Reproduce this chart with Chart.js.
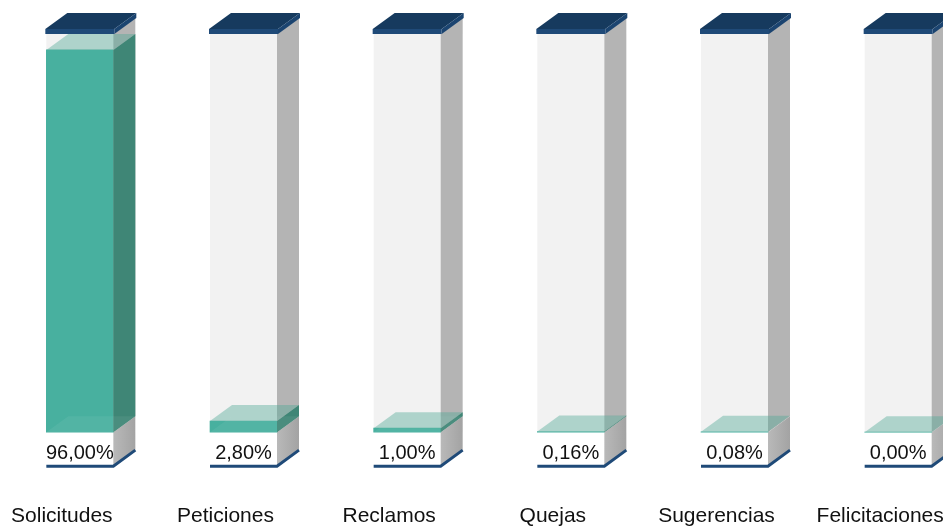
<!DOCTYPE html>
<html>
<head>
<meta charset="utf-8">
<script src="https://cdn.jsdelivr.net/npm/chart.js@4.4.1/dist/chart.umd.min.js"></script>
<style>
    html, body { margin: 0; padding: 0; background: #fff; overflow: hidden; width: 943px; height: 527px; }
    #wrap { position: absolute; left: -2px; top: 0; width: 982px; height: 527px; }
</style>
</head>
<body>
<div id="wrap"><canvas id="pqrs-chart" width="982" height="527"></canvas></div>
<script>
const categories = ["Solicitudes", "Peticiones", "Reclamos", "Quejas", "Sugerencias", "Felicitaciones"];
const percentages = [96.00, 2.80, 1.00, 0.16, 0.08, 0.00];
const fullScale = 100;
const axisFloor = -18.5; // room under zero for the label boxes

// depth of the fake 3D boxes
const DX = 22, DY = 16, BOX = 34;

const poly = (ctx, pts, fill) => {
    ctx.beginPath();
    ctx.moveTo(pts[0][0], pts[0][1]);
    for (let i = 1; i < pts.length; i++) ctx.lineTo(pts[i][0], pts[i][1]);
    ctx.closePath();
    ctx.fillStyle = fill;
    ctx.fill();
};

const formatPct = v => v.toFixed(2).replace(".", ",") + "%";

const cube3d = {
    id: "cube3d",
    beforeDatasetsDraw(chart) {
        const ctx = chart.ctx;
        const top = chart.scales.y.getPixelForValue(fullScale);
        ctx.save();
        chart.getDatasetMeta(0).data.forEach(bar => {
            const half = bar.width / 2, l = bar.x - half, r = bar.x + half, base = bar.base;
            // empty column
            ctx.fillStyle = "#f2f2f2";
            ctx.fillRect(l, top, r - l, base - top);
            poly(ctx, [[r, top], [r + DX, top - DY], [r + DX, base - DY], [r, base]], "#b4b4b4");
            // label box
            ctx.fillStyle = "#ffffff";
            ctx.fillRect(l, base, r - l, BOX);
            const g = ctx.createLinearGradient(r, 0, r + DX, 0);
            g.addColorStop(0, "#b9b9b9");
            g.addColorStop(1, "#a3a3a3");
            poly(ctx, [[r, base], [r + DX, base - DY], [r + DX, base + BOX - DY], [r, base + BOX]], g);
            ctx.strokeStyle = "#1f4a78";
            ctx.lineWidth = 3;
            ctx.beginPath();
            ctx.moveTo(l, base + BOX);
            ctx.lineTo(r, base + BOX);
            ctx.lineTo(r + DX, base + BOX - DY);
            ctx.stroke();
        });
        ctx.restore();
    },
    afterDatasetsDraw(chart) {
        const ctx = chart.ctx;
        const top = chart.scales.y.getPixelForValue(fullScale);
        ctx.save();
        chart.getDatasetMeta(0).data.forEach((bar, i) => {
            const half = bar.width / 2, l = bar.x - half, r = bar.x + half, base = bar.base, y = bar.y;
            // green side + top face
            if (base - y > 0.5) {
                poly(ctx, [[r, y], [r + DX, y - DY], [r + DX, base - DY], [r, base]], "#3f8676");
                poly(ctx, [[l, base], [r, base], [r + DX, base - DY], [l + DX, base - DY]], "rgba(255,255,255,0.06)");
            }
            poly(ctx, [[l, y], [r, y], [r + DX, y - DY], [l + DX, y - DY]], "rgba(80,170,150,0.42)");
            // navy cap
            const cl = l - 1, cr = r + 1, ct = top - 5;
            poly(ctx, [[cl, ct], [cr, ct], [cr + DX, ct - DY], [cl + DX, ct - DY]], "#163a5e");
            poly(ctx, [[cr, ct], [cr + DX, ct - DY], [cr + DX, top - DY], [cr, top]], "#1b4470");
            ctx.fillStyle = "#1f4a78";
            ctx.fillRect(cl, ct, cr - cl, 5);
            // value label
            ctx.fillStyle = "#111";
            ctx.font = "20px 'Liberation Sans', Arial, sans-serif";
            ctx.textAlign = "center";
            ctx.textBaseline = "middle";
            ctx.fillText(formatPct(percentages[i]), bar.x, base + 21);
        });
        ctx.restore();
    }
};

(function () {
    "use strict"

    const ctx = document.getElementById("pqrs-chart").getContext("2d");
    new Chart(ctx, {
        type: "bar",
        data: {
            labels: categories,
            datasets: [
                {
                    label: "Porcentaje",
                    data: percentages,
                    backgroundColor: "#48b09f",
                    borderWidth: 0,
                    barThickness: 67,
                },
            ],
        },
        options: {
            responsive: false,
            animation: false,
            layout: {
                padding: { top: 34, left: 0, right: 0, bottom: 0 },
            },
            plugins: {
                legend: { display: false },
                tooltip: { enabled: false },
            },
            scales: {
                x: {
                    grid: { display: false, drawTicks: false },
                    border: { display: false },
                    ticks: {
                        color: "#111",
                        font: { family: "'Liberation Sans', Arial, sans-serif", size: 21 },
                        padding: -2,
                        labelOffset: -18,
                        maxRotation: 0,
                        autoSkip: false,
                    },
                },
                y: {
                    display: false,
                    min: axisFloor,
                    max: fullScale,
                },
            },
        },
        plugins: [cube3d],
    });
})()
</script>
</body>
</html>
